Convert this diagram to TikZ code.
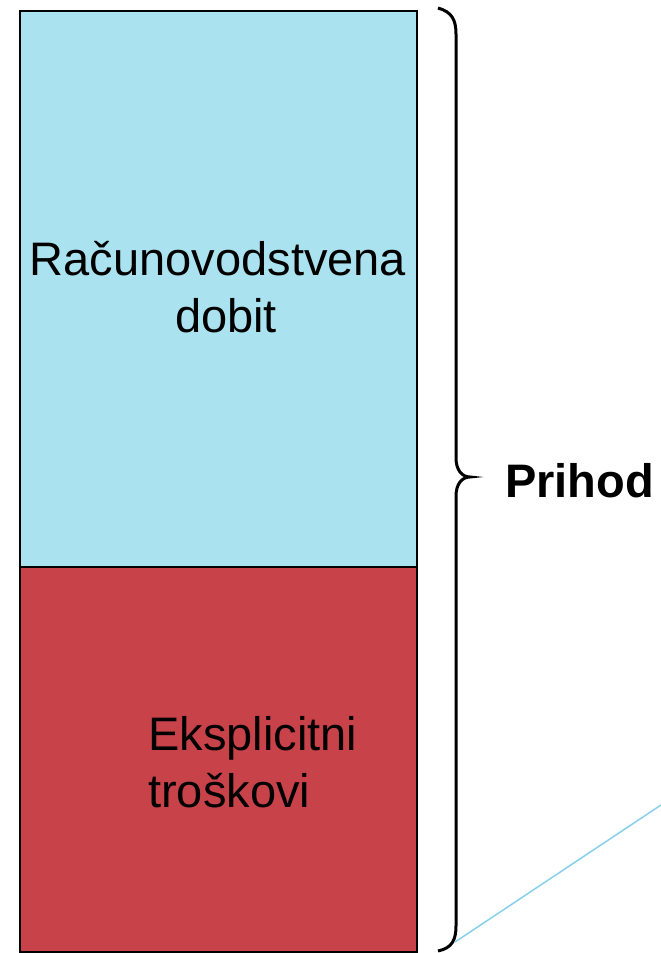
\documentclass[tikz,border=0pt]{standalone}
\usepackage{fontspec}
\setmainfont{Liberation Sans}
\definecolor{boxblue}{RGB}{170,226,240}
\definecolor{boxred}{RGB}{200,66,74}
\definecolor{lineblue}{RGB}{135,208,235}
\begin{document}
\begin{tikzpicture}[x=1pt,y=-1pt,
  bar/.style={draw=black,line width=2pt},
  lbl/.style={font=\fontsize{47}{57}\selectfont,inner sep=0pt}]
\useasboundingbox (0,0) rectangle (661,953);
\node[bar,fill=boxblue,minimum width=397pt,minimum height=556pt,inner sep=0pt,anchor=north west] (profit) at (19,10) {};
\node[bar,fill=boxred,minimum width=397pt,minimum height=385pt,inner sep=0pt,anchor=north west] (costs) at (19,566) {};
\node[lbl,align=center] (ptext) at (218,287) {Računovodstvena\\\hspace*{16pt}dobit};
\node[lbl,align=left,anchor=west] (ctext) at (148,762) {Eksplicitni\\troškovi};
\draw[line width=3pt] (438,8) .. controls (452,12) and (456,20) .. (456,34)
  -- (456,458) .. controls (456,470) and (462,477) .. (470,477)
  .. controls (462,477) and (456,484) .. (456,496)
  -- (456,926) .. controls (456,940) and (452,948) .. (438,951);
\coordinate (bracetip) at (470,477);
\node[font=\bfseries\fontsize{47}{57}\selectfont,anchor=west,inner sep=0pt] (income) at (505,481) {Prihod};
\coordinate (lstart) at (455,942);
\coordinate (lend) at (661,805);
\draw[lineblue,line width=1.5pt] (lstart) -- (lend);
\end{tikzpicture}
\end{document}
